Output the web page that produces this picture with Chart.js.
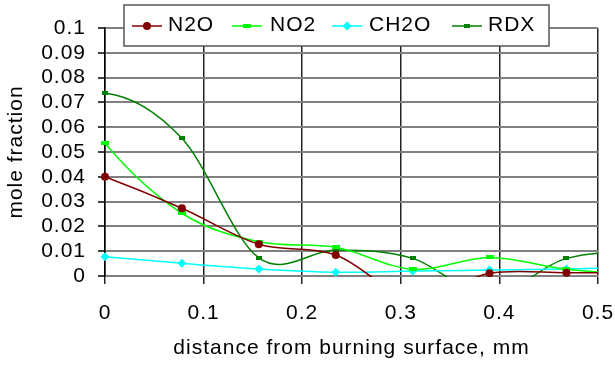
<!DOCTYPE html>
<html><head><meta charset="utf-8">
<script src="https://cdn.jsdelivr.net/npm/chart.js@4/dist/chart.umd.min.js"></script>
<style>html,body{margin:0;padding:0;background:#fff}</style>
</head><body>
<canvas id="c" width="615" height="365"></canvas>
<script>
// ---- data ----
const distances = [0, 0.078, 0.156, 0.234, 0.312, 0.39, 0.468, 0.546];
const seriesNames = ['N2O', 'NO2', 'CH2O', 'RDX'];
const n2oValues  = [0.0400, 0.0273, 0.0128, 0.0085, -0.0090, 0.0011, 0.0013, 0.0012];
const no2Values  = [0.0535, 0.0253, 0.0138, 0.0116, 0.0027, 0.0075, 0.0027, 0.0008];
const ch2oValues = [0.0078, 0.0051, 0.0028, 0.0015, 0.0020, 0.0024, 0.0028, 0.0035];
const rdxValues  = [0.0737, 0.0555, 0.0073, 0.0105, 0.0071, -0.0080, 0.0071, 0.0078];
const xTickValues = [0, 0.1, 0.2, 0.3, 0.4, 0.5];
const yTickValues = [0, 0.01, 0.02, 0.03, 0.04, 0.05, 0.06, 0.07, 0.08, 0.09, 0.1];
const xTitle = 'distance from burning surface, mm';
const yTitle = 'mole fraction';

// ---- styles ----
const FONT = 'Liberation Sans, Arial, sans-serif';
const FS = 21;
function rectImg(w, h, color) {
  const c = document.createElement('canvas');
  c.width = w; c.height = h;
  const g = c.getContext('2d');
  g.fillStyle = color; g.fillRect(0, 0, w, h);
  return c;
}
const styles = [
  {color: '#800000', pointStyle: 'circle', radius: 4},
  {color: '#00FF00', pointStyle: rectImg(8, 4, '#00FF00'), radius: 4},
  {color: '#00FFFF', pointStyle: 'rectRot', radius: 4.5},
  {color: '#008000', pointStyle: rectImg(6, 4, '#008000'), radius: 3}
];
const allValues = [n2oValues, no2Values, ch2oValues, rdxValues];

const datasets = seriesNames.map((name, i) => ({
  label: name,
  data: distances.map((x, j) => ({x: x, y: allValues[i][j]})),
  borderColor: styles[i].color,
  backgroundColor: styles[i].color,
  pointBackgroundColor: styles[i].color,
  pointBorderColor: styles[i].color,
  pointStyle: styles[i].pointStyle,
  pointRadius: styles[i].radius,
  pointBorderWidth: 0,
  borderWidth: 1.5,
  tension: 0.4,
  fill: false,
  clip: {left: 6, top: 0, right: 0, bottom: 1}
}));

// Spreadsheet-style smoothing: Catmull-Rom control points on the library's pixel positions
const smoothPlugin = {
  id: 'smooth',
  beforeDatasetDraw(chart, args) {
    const meta = args.meta;
    const pts = meta.data;
    const n = pts.length;
    const T = [];
    for (let i = 0; i < n; i++) {
      if (i > 0 && i < n - 1) {
        T.push({x: (pts[i + 1].x - pts[i - 1].x) / 2, y: (pts[i + 1].y - pts[i - 1].y) / 2});
      } else T.push(null);
    }
    if (n > 2) {
      T[0] = {x: 2 * (pts[1].x - pts[0].x) - T[1].x, y: 2 * (pts[1].y - pts[0].y) - T[1].y};
      T[n - 1] = {x: 2 * (pts[n - 1].x - pts[n - 2].x) - T[n - 2].x, y: 2 * (pts[n - 1].y - pts[n - 2].y) - T[n - 2].y};
    }
    for (let i = 0; i < n; i++) {
      const p = pts[i];
      p.cp1x = p.x - T[i].x / 3; p.cp1y = p.y - T[i].y / 3;
      p.cp2x = p.x + T[i].x / 3; p.cp2y = p.y + T[i].y / 3;
    }
    if (meta.dataset) { meta.dataset._pointsUpdated = true; meta.dataset._path = undefined; }
  }
};

const spacingPlugin = {
  id: 'spacing',
  beforeDraw(chart) { chart.ctx.letterSpacing = '1px'; }
};

const legendPlugin = {
  id: 'boxLegend',
  afterDraw(chart) {
    const ctx = chart.ctx;
    ctx.save();
    ctx.letterSpacing = '1px';
    const L = 124, T = 5, R = 549, B = 46;
    ctx.fillStyle = '#fff';
    ctx.fillRect(L, T, R - L, B - T);
    ctx.strokeStyle = '#555';
    ctx.lineWidth = 1.5;
    ctx.strokeRect(L, T, R - L, B - T);
    const lineStarts = [132, 232, 332, 452];
    const textStarts = [168, 270, 369, 488];
    const cy = 26;
    chart.data.datasets.forEach((ds, i) => {
      const x0 = lineStarts[i];
      ctx.strokeStyle = ds.borderColor;
      ctx.lineWidth = 1.5;
      ctx.beginPath(); ctx.moveTo(x0, cy); ctx.lineTo(x0 + 30, cy); ctx.stroke();
      ctx.fillStyle = ds.borderColor;
      const st = ds.pointStyle;
      if (st instanceof HTMLCanvasElement) {
        ctx.drawImage(st, x0 + 15 - st.width / 2, cy - st.height / 2);
      } else {
        ctx.beginPath();
        if (st === 'circle') ctx.arc(x0 + 15, cy, ds.pointRadius, 0, Math.PI * 2);
        else { const r = ds.pointRadius; ctx.moveTo(x0 + 15, cy - r); ctx.lineTo(x0 + 15 + r, cy); ctx.lineTo(x0 + 15, cy + r); ctx.lineTo(x0 + 15 - r, cy); ctx.closePath(); }
        ctx.fill();
      }
      ctx.fillStyle = '#000';
      ctx.font = FS + 'px ' + FONT;
      ctx.textBaseline = 'middle';
      ctx.textAlign = 'left';
      ctx.fillText(ds.label, textStarts[i], 25);
    });
    ctx.restore();
  }
};

new Chart(document.getElementById('c'), {
  type: 'line',
  data: {datasets},
  plugins: [spacingPlugin, smoothPlugin, legendPlugin],
  options: {
    responsive: false,
    animation: false,
    devicePixelRatio: 1,
    layout: {padding: {top: 28, right: 0, bottom: 0, left: 0}},
    plugins: {legend: {display: false}, tooltip: {enabled: false}},
    elements: {line: {capBezierPoints: false}},
    scales: {
      x: {
        type: 'linear', min: 0, max: 0.5,
        afterBuildTicks: s => { s.ticks = xTickValues.map(v => ({value: v})); },
        afterFit: s => { s.height = 89; s.paddingLeft = 0; s.paddingRight = 17; },
        ticks: {color: '#000', font: {family: FONT, size: FS}, padding: 17, maxRotation: 0, autoSkip: false,
                callback: v => String(v)},
        grid: {color: '#222', lineWidth: 1.5, tickLength: 8, tickColor: '#222', tickWidth: 1.5},
        border: {color: '#808080', width: 2},
        title: {display: true, text: xTitle, color: '#000', font: {family: FONT, size: FS}}
      },
      y: {
        type: 'linear', min: 0, max: 0.1,
        afterBuildTicks: s => { s.ticks = yTickValues.map(v => ({value: v})); },
        afterFit: s => { s.width = 105; },
        ticks: {color: '#000', font: {family: FONT, size: FS}, padding: 12, autoSkip: false,
                callback: v => String(v)},
        grid: {color: '#808080', lineWidth: 2, tickLength: 7, tickColor: '#000', tickWidth: 1.5},
        border: {color: '#000', width: 1.5},
        title: {display: true, text: yTitle, color: '#000', font: {family: FONT, size: FS}}
      }
    }
  }
});
</script>
</body></html>
